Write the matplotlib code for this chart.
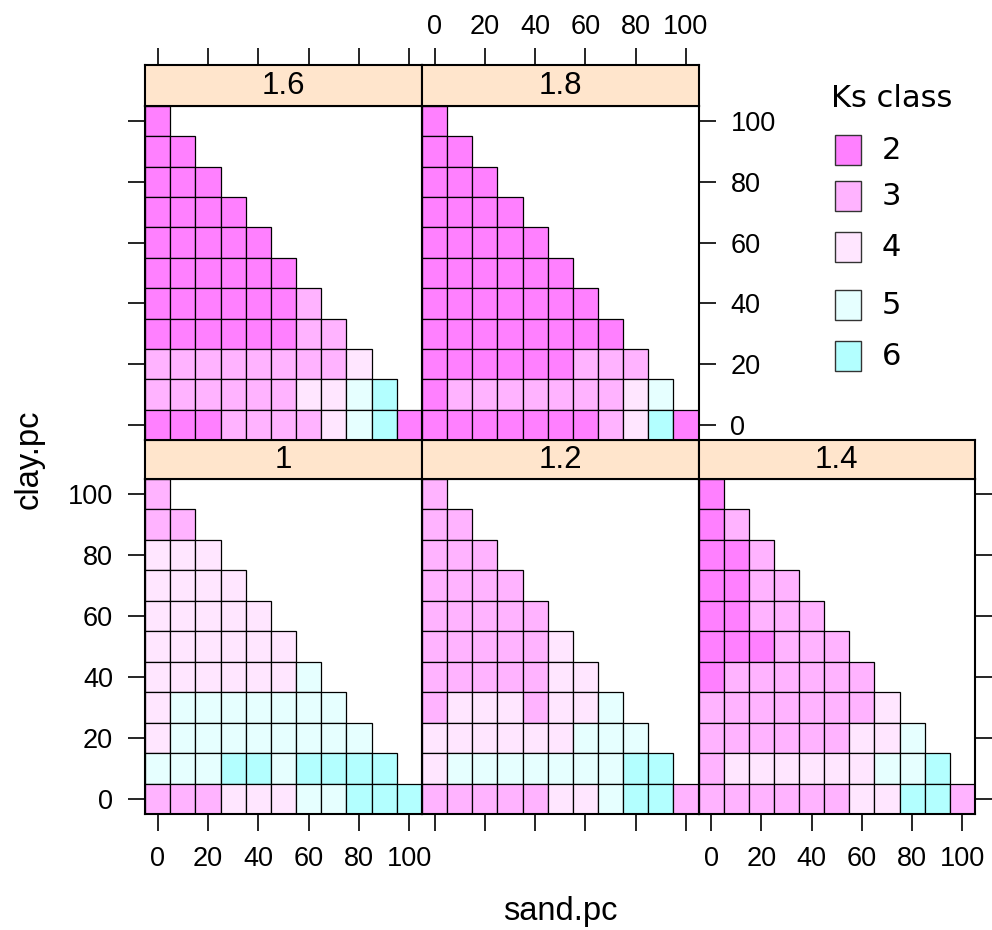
import matplotlib
matplotlib.use('Agg')
import matplotlib.pyplot as plt
from matplotlib.patches import Rectangle

W, H = 992, 930
fig = plt.figure(figsize=(W / 100, H / 100), dpi=100)
plt.rcParams['font.family'] = ['Liberation Sans', 'DejaVu Sans']

# ---------------- data ----------------
sand_pc = [0, 10, 20, 30, 40, 50, 60, 70, 80, 90, 100]
clay_pc = [100, 90, 80, 70, 60, 50, 40, 30, 20, 10, 0]   # rows, top to bottom
tick_vals = [0, 20, 40, 60, 80, 100]
ks_levels = [2, 3, 4, 5, 6]
ks_colors = ['#FF80FF', '#FFB3FF', '#FFE6FF', '#E6FFFF', '#B3FFFF']

# Ks class per cell; each row is one clay level (100 -> 0), columns sand 0, 10, ...
ks_1 = [
    [3],
    [3, 3],
    [4, 4, 4],
    [4, 4, 4, 4],
    [4, 4, 4, 4, 4],
    [4, 4, 4, 4, 4, 4],
    [4, 4, 4, 4, 4, 4, 5],
    [4, 5, 5, 5, 5, 5, 5, 5],
    [4, 5, 5, 5, 5, 5, 5, 5, 5],
    [5, 5, 5, 6, 6, 5, 6, 6, 6, 6],
    [3, 3, 3, 4, 4, 4, 5, 5, 6, 6, 6],
]
ks_12 = [
    [3],
    [3, 3],
    [3, 3, 3],
    [3, 3, 3, 3],
    [3, 3, 3, 3, 3],
    [3, 3, 3, 3, 3, 4],
    [3, 3, 3, 3, 3, 4, 4],
    [3, 4, 4, 4, 3, 4, 4, 5],
    [4, 4, 4, 4, 4, 4, 5, 5, 5],
    [4, 5, 5, 5, 5, 5, 5, 5, 6, 6],
    [3, 3, 3, 3, 3, 4, 4, 5, 6, 6, 3],
]
ks_14 = [
    [2],
    [2, 3],
    [2, 2, 3],
    [2, 2, 3, 3],
    [2, 2, 3, 3, 3],
    [2, 2, 2, 3, 3, 3],
    [2, 3, 3, 3, 3, 3, 3],
    [3, 3, 3, 3, 3, 3, 3, 4],
    [3, 3, 3, 3, 3, 3, 4, 4, 5],
    [3, 4, 4, 4, 4, 4, 4, 5, 5, 6],
    [3, 3, 3, 3, 3, 3, 4, 4, 6, 6, 3],
]
ks_16 = [
    [2],
    [2, 2],
    [2, 2, 2],
    [2, 2, 2, 2],
    [2, 2, 2, 2, 2],
    [2, 2, 2, 2, 2, 2],
    [2, 2, 2, 2, 2, 2, 3],
    [2, 2, 2, 2, 2, 2, 3, 3],
    [3, 3, 3, 3, 3, 3, 3, 3, 4],
    [3, 3, 3, 3, 3, 3, 4, 4, 5, 6],
    [2, 2, 2, 3, 3, 3, 3, 4, 5, 6, 2],
]
ks_18 = [
    [2],
    [2, 2],
    [2, 2, 2],
    [2, 2, 2, 2],
    [2, 2, 2, 2, 2],
    [2, 2, 2, 2, 2, 2],
    [2, 2, 2, 2, 2, 2, 2],
    [2, 2, 2, 2, 2, 2, 2, 2],
    [2, 2, 2, 2, 2, 2, 3, 3, 3],
    [2, 3, 3, 3, 3, 3, 3, 3, 4, 5],
    [2, 2, 2, 2, 2, 2, 2, 3, 4, 6, 2],
]
panel_labels = ['1', '1.2', '1.4', '1.6', '1.8']
panel_data = [ks_1, ks_12, ks_14, ks_16, ks_18]

color_of = dict(zip(ks_levels, ks_colors))

# ---------------- layout (pixels) ----------------
col_x = [(145, 422), (422, 698.5), (698.5, 975)]
row_y = {0: (65, 106, 440), 1: (440, 479, 814)}   # strip top, plot top, plot bottom
positions = {'1': (1, 0), '1.2': (1, 1), '1.4': (1, 2), '1.6': (0, 0), '1.8': (0, 1)}


def px_axes(x0, y0, x1, y1):
    return fig.add_axes([x0 / W, 1 - y1 / H, (x1 - x0) / W, (y1 - y0) / H])


tick_kw = dict(direction='out', length=12, width=1.2, labelsize=19.5, pad=11,
               color='black')

for lab, grid in zip(panel_labels, panel_data):
    r, c = positions[lab]
    x0, x1 = col_x[c]
    st, pt, pb = row_y[r]
    ax = px_axes(x0, pt, x1, pb)
    for clay, row in zip(clay_pc, grid):
        ax.bar(sand_pc[:len(row)], 10, bottom=clay - 5, width=10, align='center',
               color=[color_of[k] for k in row], edgecolor='black', linewidth=0.9)
    ax.set_xlim(-5, 105)
    ax.set_ylim(-5, 105)
    ax.set_xticks(tick_vals)
    ax.set_yticks(tick_vals)
    for s in ax.spines.values():
        s.set_linewidth(1.5)
    ax.tick_params(axis='both', **tick_kw)
    ax.tick_params(left=(c == 0), labelleft=(c == 0 and r == 1),
                   right=(r == 0 and c == 1) or (r == 1 and c == 2),
                   labelright=(r == 0 and c == 1),
                   bottom=(r == 1), labelbottom=(r == 1 and c != 1),
                   top=False, labeltop=False)

    sax = px_axes(x0, st, x1, pt)
    sax.set_facecolor('#FFE5CC')
    sax.set_xlim(-5, 105)
    sax.set_ylim(0, 1)
    sax.set_yticks([])
    sax.set_xticks(tick_vals)
    for s in sax.spines.values():
        s.set_linewidth(1.5)
    sax.tick_params(axis='x', **tick_kw)
    sax.tick_params(axis='x', pad=6)
    sax.tick_params(bottom=False, labelbottom=False, top=(r == 0),
                    labeltop=(r == 0 and c == 1))
    sax.text(50, 0.5, lab, ha='center', va='center', fontsize=22.5)

fig.text(560 / W, 1 - 911 / H, 'sand.pc', ha='center', va='center', fontsize=23.5)
fig.text(29 / W, 1 - 459 / H, 'clay.pc', ha='center', va='center', fontsize=23.5,
         rotation=90)

# ---------------- legend ----------------
lax = px_axes(800, 60, 990, 400)
lax.set_xlim(800, 990)
lax.set_ylim(400, 60)
lax.axis('off')
lax.text(831, 98, 'Ks class', ha='left', va='center', fontsize=22,
         family='DejaVu Sans')
key_y = [150, 196, 247, 305, 356]
for lvl, col, yc in zip(ks_levels, ks_colors, key_y):
    lax.add_patch(Rectangle((835, yc - 15), 25.5, 30, facecolor=col,
                            edgecolor='#333333', linewidth=1.0))
    lax.text(882, yc, str(lvl), ha='left', va='center', fontsize=22,
             family='DejaVu Sans')

fig.savefig('out.png', dpi=100)
